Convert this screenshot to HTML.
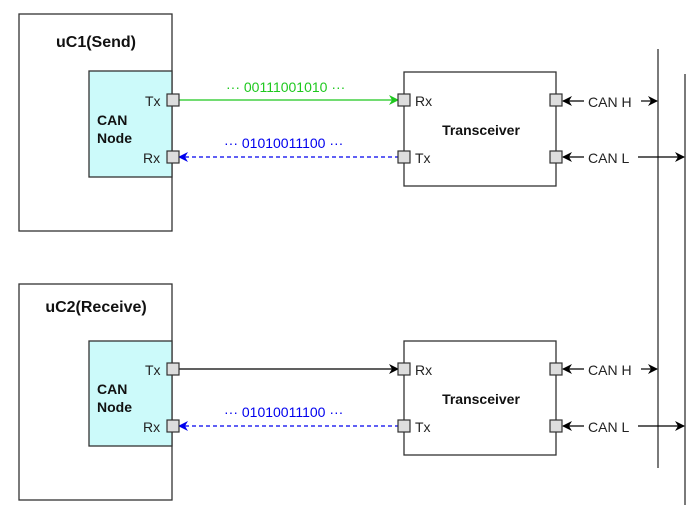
<!DOCTYPE html>
<html><head><style>body{margin:0;background:#fff}svg{display:block}</style></head><body>
<svg width="700" height="512" xmlns="http://www.w3.org/2000/svg" font-family="Liberation Sans, Arial, sans-serif">
<defs>
<marker id="ak" markerWidth="10" markerHeight="10" refX="9" refY="5" orient="auto" markerUnits="userSpaceOnUse"><path d="M0,0 L10,5 L0,10 L3,5z" fill="#000"/></marker>
<marker id="ag" markerWidth="10" markerHeight="10" refX="9" refY="5" orient="auto" markerUnits="userSpaceOnUse"><path d="M0,0 L10,5 L0,10 L3,5z" fill="#1ec81e"/></marker>
<marker id="ab" markerWidth="10" markerHeight="10" refX="9" refY="5" orient="auto" markerUnits="userSpaceOnUse"><path d="M0,0 L10,5 L0,10 L3,5z" fill="#0000ee"/></marker>
</defs>
<g stroke="#333" stroke-width="1.3" fill="none">
<rect x="19" y="14" width="153" height="217" fill="#fff"/>
<rect x="89" y="71" width="83" height="106" fill="#ccfafa"/>
<rect x="19" y="284" width="153" height="216" fill="#fff"/>
<rect x="89" y="341" width="83" height="105" fill="#ccfafa"/>
<rect x="404" y="72" width="152" height="114" fill="#fff"/>
<rect x="404" y="341" width="152" height="114" fill="#fff"/>
<line x1="658" y1="49" x2="658" y2="468"/>
<line x1="685" y1="74" x2="685" y2="505"/>
</g>
<g font-weight="bold" fill="#111">
<text x="96" y="47" font-size="16" text-anchor="middle">uC1(Send)</text>
<text x="96" y="312" font-size="16" text-anchor="middle">uC2(Receive)</text>
<text x="97" y="125" font-size="14">CAN</text><text x="97" y="143" font-size="14">Node</text>
<text x="97" y="394" font-size="14">CAN</text><text x="97" y="412" font-size="14">Node</text>
<text x="481" y="135" font-size="14" text-anchor="middle">Transceiver</text>
<text x="481" y="404" font-size="14" text-anchor="middle">Transceiver</text>
</g>
<g font-size="14" fill="#222">
<text x="145" y="106">Tx</text><text x="143" y="163">Rx</text>
<text x="145" y="375">Tx</text><text x="143" y="432">Rx</text>
<text x="415" y="106">Rx</text><text x="415" y="163">Tx</text>
<text x="415" y="375">Rx</text><text x="415" y="432">Tx</text>
<text x="588" y="107">CAN H</text><text x="588" y="163">CAN L</text>
<text x="588" y="375">CAN H</text><text x="588" y="432">CAN L</text>
</g>
<text x="226" y="92" font-size="14" fill="#1ec81e">··· 00111001010 ···</text>
<text x="224" y="148" font-size="14" fill="#0000ee">··· 01010011100 ···</text>
<text x="224" y="417" font-size="14" fill="#0000ee">··· 01010011100 ···</text>
<line x1="178" y1="100" x2="398" y2="100" stroke="#1ec81e" stroke-width="1.3" marker-end="url(#ag)"/>
<line x1="399" y1="157" x2="179" y2="157" stroke="#0000ee" stroke-width="1.3" stroke-dasharray="4,3" marker-end="url(#ab)"/>
<line x1="178" y1="369" x2="398" y2="369" stroke="#000" stroke-width="1.2" marker-end="url(#ak)"/>
<line x1="399" y1="426" x2="179" y2="426" stroke="#0000ee" stroke-width="1.3" stroke-dasharray="4,3" marker-end="url(#ab)"/>
<g stroke="#000" stroke-width="1.2">
<line x1="584" y1="101" x2="563" y2="101" marker-end="url(#ak)"/>
<line x1="584" y1="157" x2="563" y2="157" marker-end="url(#ak)"/>
<line x1="584" y1="369" x2="563" y2="369" marker-end="url(#ak)"/>
<line x1="584" y1="426" x2="563" y2="426" marker-end="url(#ak)"/>
<line x1="641" y1="101" x2="657" y2="101" marker-end="url(#ak)"/>
<line x1="638" y1="157" x2="684" y2="157" marker-end="url(#ak)"/>
<line x1="641" y1="369" x2="657" y2="369" marker-end="url(#ak)"/>
<line x1="638" y1="426" x2="684" y2="426" marker-end="url(#ak)"/>
</g>
<g fill="#ddd" stroke="#333" stroke-width="1.2">
<rect x="167" y="94" width="12" height="12"/><rect x="167" y="151" width="12" height="12"/>
<rect x="167" y="363" width="12" height="12"/><rect x="167" y="420" width="12" height="12"/>
<rect x="398" y="94" width="12" height="12"/><rect x="398" y="151" width="12" height="12"/>
<rect x="398" y="363" width="12" height="12"/><rect x="398" y="420" width="12" height="12"/>
<rect x="550" y="94" width="12" height="12"/><rect x="550" y="151" width="12" height="12"/>
<rect x="550" y="363" width="12" height="12"/><rect x="550" y="420" width="12" height="12"/>
</g>
</svg>
</body></html>
